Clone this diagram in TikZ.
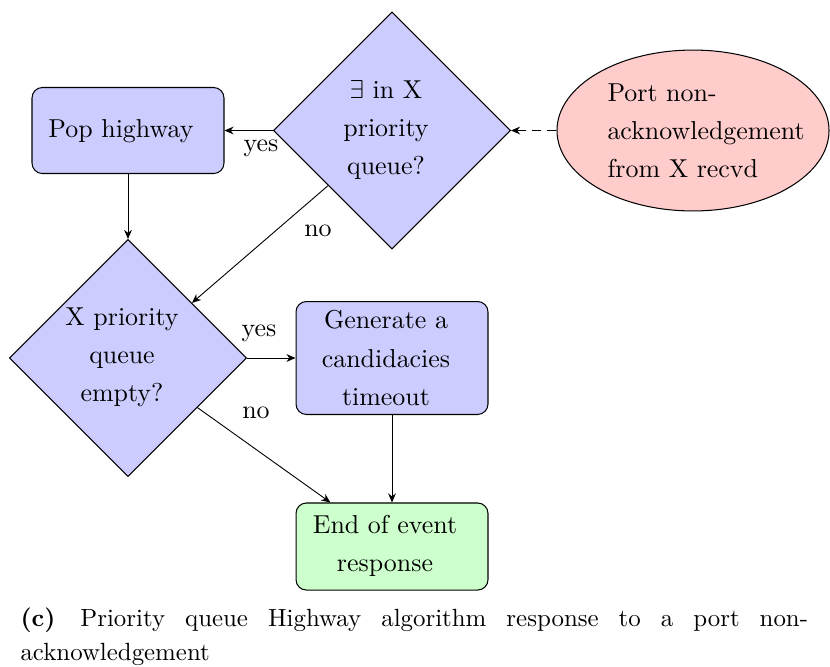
\documentclass[tikz,border=0pt]{standalone}
\usetikzlibrary{shapes.geometric,arrows.meta}
\begin{document}
\begin{tikzpicture}[x=0.386pt,y=-0.386pt,
  every node/.style={font=\fontsize{10}{14.7}\selectfont},
  boxnode/.style={draw,rounded corners=4pt,fill=blue!20,inner sep=0pt,align=center},
  decision/.style={draw,diamond,aspect=1,fill=blue!20,inner sep=0pt,
    minimum width=91.5pt,minimum height=91.5pt,align=center},
  eventnode/.style={draw,ellipse,fill=red!20,inner sep=0pt,
    minimum width=105pt,minimum height=62.1pt,align=left},
  arr/.style={-{Stealth[length=3.5pt,width=3pt]},line width=0.35pt},
  lbl/.style={inner sep=0pt}]
\useasboundingbox (0,0) rectangle (830,666);

% nodes
\node[boxnode,minimum width=74.1pt,minimum height=33.2pt] (pop) at (128,130.5) {};
\node[lbl] at (121,131) {Pop highway};
\node[decision] (q1) at (392,130.5) {};
\node[lbl,align=center] at (386,130) {$\exists$ in X\\priority\\queue?};
\node[eventnode] (recv) at (693,130.5) {};
\node[lbl,align=left,anchor=west] at (607,131) {Port non-\\acknowledgement\\from X recvd};
\node[decision] (q2) at (128,358) {};
\node[lbl,align=center] at (122,357) {X priority\\queue\\empty?};
\node[boxnode,minimum width=74.1pt,minimum height=43.6pt] (gen) at (392,358) {};
\node[lbl,align=center] at (386,358) {Generate a\\candidacies\\timeout};
\node[boxnode,minimum width=74.1pt,minimum height=33.6pt,fill=green!20] (done) at (392,546.5) {};
\node[lbl,align=center] at (385,546) {End of event\\response};

% connectors
\draw[arr,dash pattern=on 3.5pt off 2.3pt] (recv) -- (q1);
\draw[arr] (q1.west) -- (pop.east);
\draw[arr] (pop.south) -- (q2.north);
\draw[arr] (q1) -- (q2);
\draw[arr] (q2.east) -- (gen.west);
\draw[arr] (q2) -- (done);
\draw[arr] (gen.south) -- (done.north);

% edge labels
\node[lbl] at (261,148) {yes};
\node[lbl] at (318,231) {no};
\node[lbl] at (259,333) {yes};
\node[lbl] at (256,413) {no};

% caption
\node[lbl,anchor=north west,align=left,font=\fontsize{9.6}{13.2}\selectfont] (cap) at (20,607)
  {\makebox[304pt][s]{\textbf{(c)}\quad Priority queue Highway algorithm response to a port non-}\\acknowledgement};
\end{tikzpicture}
\end{document}
